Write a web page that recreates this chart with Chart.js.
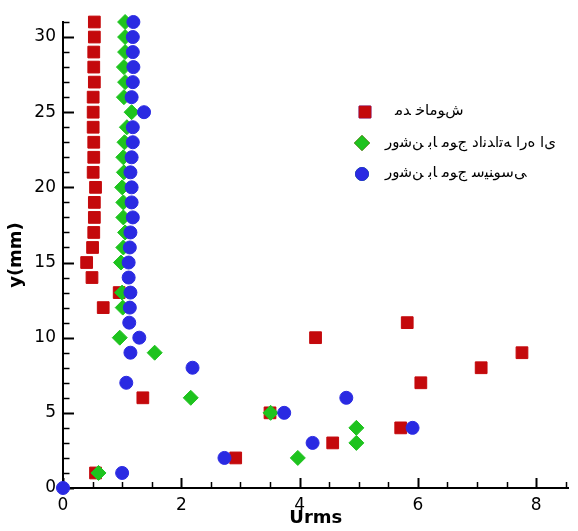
<!DOCTYPE html>
<html>
<head>
<meta charset="utf-8">
<script src="https://cdn.jsdelivr.net/npm/chart.js@4.4.1/dist/chart.umd.min.js"></script>
<style>
  html, body { margin: 0; padding: 0; background: #fff; }
  #wrap { width: 578px; height: 531px; }
</style>
</head>
<body>
<div id="wrap"><canvas id="c" width="578" height="531"></canvas></div>
<script>
// ---- data ----
const seriesLabels = ['مد خاموش', 'روشن با موج دانداته اره ای', 'روشن با موج سینوسی'];

const offY = [1, 2, 3, 4, 5, 6, 7, 8, 9, 10, 11, 12, 13, 14, 15, 16, 17, 18, 19, 20, 21, 22, 23, 24, 25, 26, 27, 28, 29, 30, 31];
const offU = [0.55, 2.92, 4.56, 5.71, 3.50, 1.35, 6.05, 7.07, 7.76, 4.27, 5.82, 0.68, 0.95, 0.49, 0.40, 0.50, 0.52, 0.53, 0.53, 0.55, 0.51, 0.52, 0.52, 0.51, 0.51, 0.51, 0.53, 0.52, 0.52, 0.53, 0.53];

const sawY = [1, 2, 3, 4, 5, 6, 9, 10, 12, 13, 15, 16, 17, 18, 19, 20, 21, 22, 23, 24, 25, 26, 27, 28, 29, 30, 31];
const sawU = [0.60, 3.97, 4.96, 4.96, 3.51, 2.16, 1.55, 0.96, 1.01, 1.00, 0.98, 1.02, 1.05, 1.02, 1.02, 1.00, 1.03, 1.02, 1.04, 1.08, 1.16, 1.03, 1.05, 1.03, 1.05, 1.05, 1.05];

const sinY = [0, 1, 2, 3, 4, 5, 6, 7, 8, 9, 10, 11, 12, 13, 14, 15, 16, 17, 18, 19, 20, 21, 22, 23, 24, 25, 26, 27, 28, 29, 30, 31];
const sinU = [0, 1.00, 2.73, 4.22, 5.91, 3.74, 4.79, 1.07, 2.19, 1.14, 1.29, 1.12, 1.13, 1.14, 1.11, 1.11, 1.13, 1.14, 1.18, 1.16, 1.16, 1.14, 1.16, 1.18, 1.18, 1.37, 1.16, 1.18, 1.19, 1.18, 1.18, 1.19];

const xTicks = [0, 2, 4, 6, 8];
const yTicks = [0, 5, 10, 15, 20, 25, 30];
const xTitle = 'Urms';
const yTitle = 'y(mm)';

// ---- styles ----
const RED = '#c4090c';
const GREEN = '#1ec31e';
const BLUE = '#2a2ae2';

function pts(us, ys) { return us.map((u, i) => ({ x: u, y: ys[i] })); }

// Minimal Arabic-script shaping for the canvas renderer (which draws letters
// unjoined and in logical order): pick contextual forms, then lay out right-to-left.
const FORMS = {
  '\u0627': [0xFE8D, 0xFE8E], '\u062F': [0xFEA9, 0xFEAA], '\u0631': [0xFEAD, 0xFEAE], '\u0648': [0xFEED, 0xFEEE],
  '\u0628': [0xFE8F, 0xFE90, 0xFE91, 0xFE92], '\u062A': [0xFE95, 0xFE96, 0xFE97, 0xFE98],
  '\u062C': [0xFE9D, 0xFE9E, 0xFE9F, 0xFEA0], '\u062E': [0xFEA5, 0xFEA6, 0xFEA7, 0xFEA8],
  '\u0633': [0xFEB1, 0xFEB2, 0xFEB3, 0xFEB4], '\u0634': [0xFEB5, 0xFEB6, 0xFEB7, 0xFEB8],
  '\u0645': [0xFEE1, 0xFEE2, 0xFEE3, 0xFEE4], '\u0646': [0xFEE5, 0xFEE6, 0xFEE7, 0xFEE8],
  '\u0647': [0xFEE9, 0xFEEA, 0xFEEB, 0xFEEC], '\u06CC': [0xFEEF, 0xFEF0, 0xFEF3, 0xFEF4]
};
function shapeRtl(str) {
  const ch = Array.from(str);
  const out = ch.map((c, i) => {
    const f = FORMS[c];
    if (!f) return c;
    const p = FORMS[ch[i - 1]];
    const n = FORMS[ch[i + 1]];
    const joinPrev = !!(p && p.length === 4);
    const joinNext = !!(n && f.length === 4);
    let idx;
    if (joinPrev && joinNext) idx = 3;
    else if (joinPrev) idx = 1;
    else if (joinNext) idx = 2;
    else idx = 0;
    return String.fromCharCode(f[idx]);
  });
  return out.reverse().join('');
}

const insideTicks = {
  id: 'insideTicks',
  beforeDatasetsDraw(chart) {
    const { ctx, chartArea, scales: { x, y } } = chart;
    ctx.save();
    ctx.strokeStyle = '#000';
    for (let k = 0; k * 0.5 <= x.max + 1e-9; k++) {
      const v = k * 0.5;
      const major = xTicks.includes(v);
      const px = Math.round(x.getPixelForValue(v)) + 0.5;
      ctx.lineWidth = major ? 2 : 1.5;
      ctx.beginPath();
      ctx.moveTo(px, chartArea.bottom);
      ctx.lineTo(px, chartArea.bottom - (major ? 10 : 6));
      ctx.stroke();
    }
    for (let v = 0; v <= y.max + 1e-9; v++) {
      const major = yTicks.includes(v);
      const py = Math.round(y.getPixelForValue(v)) + 0.5;
      ctx.lineWidth = major ? 2 : 1.5;
      ctx.beginPath();
      ctx.moveTo(chartArea.left, py);
      ctx.lineTo(chartArea.left + (major ? 11 : 6.5), py);
      ctx.stroke();
    }
    ctx.restore();
  }
};

const customLegend = {
  id: 'customLegend',
  afterDraw(chart, args, opts) {
    const { ctx } = chart;
    ctx.save();
    const ds = chart.data.datasets;
    const order = [2, 1, 0];
    opts.items.forEach((it, i) => {
      const d = ds[order[i]];
      Chart.helpers.drawPoint(ctx, {
        pointStyle: d.pointStyle,
        radius: d.pointRadius,
        rotation: 0,
        borderWidth: 1
      }, it.mx, it.my);
      ctx.fillStyle = d.backgroundColor;
      ctx.strokeStyle = d.borderColor;
      ctx.lineWidth = 1;
      ctx.fill();
      ctx.stroke();
      ctx.fillStyle = '#000';
      ctx.font = opts.font;
      ctx.textAlign = 'left';
      ctx.textBaseline = 'middle';
      ctx.fillText(shapeRtl(d.label), it.tx, it.ty);
    });
    ctx.restore();
  }
};

new Chart(document.getElementById('c'), {
  type: 'scatter',
  data: {
    datasets: [
      { label: seriesLabels[2], data: pts(sinU, sinY), pointStyle: 'circle', pointRadius: 6.5,
        backgroundColor: BLUE, borderColor: BLUE, borderWidth: 1, clip: false },
      { label: seriesLabels[1], data: pts(sawU, sawY), pointStyle: 'rectRot', pointRadius: 7.5,
        backgroundColor: GREEN, borderColor: GREEN, borderWidth: 1, clip: false },
      { label: seriesLabels[0], data: pts(offU, offY), pointStyle: 'rect', pointRadius: 8.3,
        backgroundColor: RED, borderColor: RED, borderWidth: 1, clip: false }
    ]
  },
  options: {
    responsive: false,
    animation: false,
    events: [],
    layout: { padding: { top: 22, right: 0, left: 0, bottom: 0 } },
    plugins: {
      legend: { display: false },
      tooltip: { enabled: false },
      customLegend: {
        font: '15px "DejaVu Sans"',
        items: [
          { mx: 365, my: 112, tx: 395, ty: 111 },
          { mx: 362, my: 143, tx: 385, ty: 143 },
          { mx: 362, my: 174, tx: 385, ty: 173 }
        ]
      }
    },
    scales: {
      x: {
        type: 'linear', min: 0, max: 8.55,
        grid: { display: false, drawTicks: false },
        border: { display: true, color: '#000', width: 2 },
        ticks: { color: '#000', padding: 7, font: { family: 'DejaVu Sans', size: 17 } },
        afterBuildTicks: (s) => { s.ticks = xTicks.map(v => ({ value: v })); },
        afterFit: (s) => { s.height = 43; },
        title: { display: true, text: xTitle, color: '#000', padding: { top: 0, bottom: 2 },
                 font: { family: 'DejaVu Sans', size: 18, weight: 'bold' } }
      },
      y: {
        type: 'linear', min: 0, max: 31,
        grid: { display: false, drawTicks: false },
        border: { display: true, color: '#000', width: 2 },
        ticks: { color: '#000', padding: 7, font: { family: 'DejaVu Sans', size: 17 } },
        afterBuildTicks: (s) => { s.ticks = yTicks.map(v => ({ value: v })); },
        afterFit: (s) => { s.width = 63; },
        title: { display: true, text: yTitle, color: '#000', padding: { top: 6, bottom: 0 },
                 font: { family: 'DejaVu Sans', size: 18, weight: 'bold' } }
      }
    }
  },
  plugins: [insideTicks, customLegend]
});
</script>
</body>
</html>
